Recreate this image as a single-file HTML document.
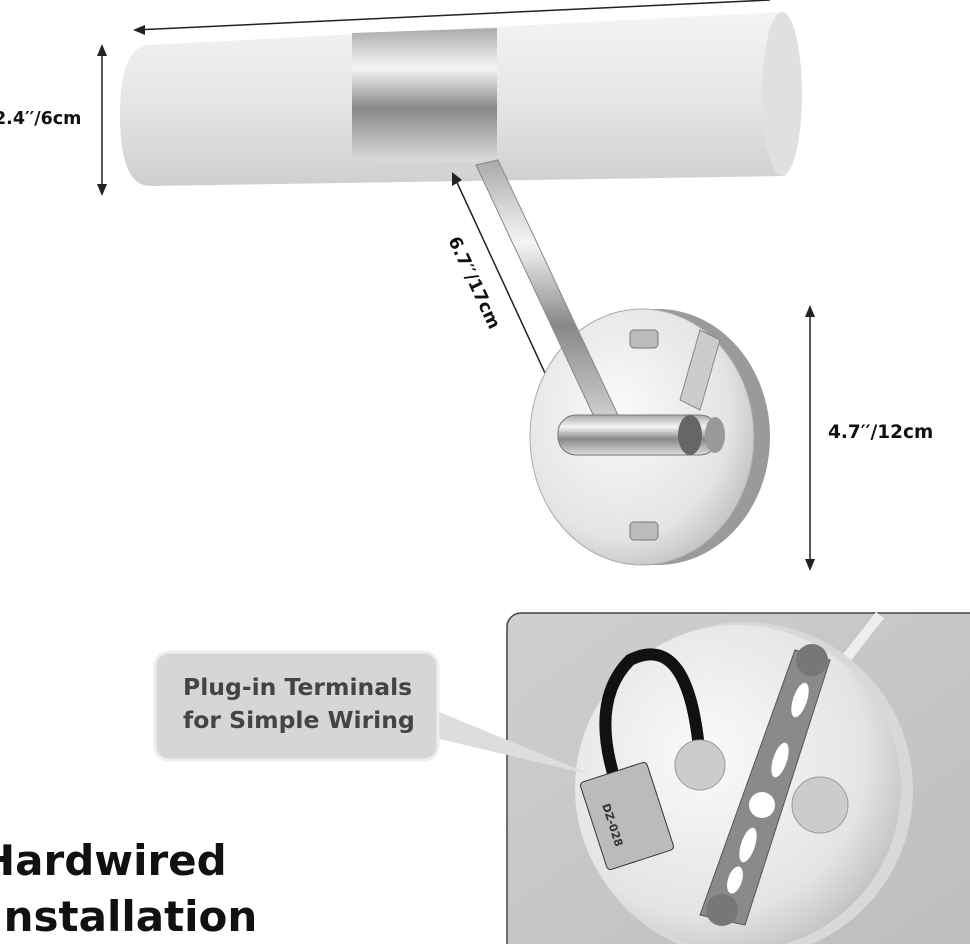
<!DOCTYPE html>
<html><head><meta charset="utf-8"><style>
html,body{margin:0;padding:0;background:#fff;width:970px;height:944px;overflow:hidden}
svg{display:block}
text{font-family:"DejaVu Sans","Liberation Sans",sans-serif;font-weight:bold}
</style></head><body>
<svg width="970" height="944" viewBox="0 0 970 944">
<defs>
<linearGradient id="tube" x1="0" y1="0" x2="0" y2="1">
<stop offset="0" stop-color="#f4f4f4"/><stop offset=".5" stop-color="#e6e6e6"/><stop offset="1" stop-color="#cfcfcf"/></linearGradient>
<linearGradient id="chrome" x1="0" y1="0" x2="0" y2="1">
<stop offset="0" stop-color="#aaa"/><stop offset=".3" stop-color="#f5f5f5"/><stop offset=".6" stop-color="#888"/><stop offset="1" stop-color="#ddd"/></linearGradient>
<radialGradient id="plate" cx=".4" cy=".4" r=".7"><stop offset="0" stop-color="#fafafa"/><stop offset=".7" stop-color="#e4e4e4"/><stop offset="1" stop-color="#b8b8b8"/></radialGradient>
<linearGradient id="bg" x1="0" y1="0" x2="1" y2="1"><stop offset="0" stop-color="#cfcfcf"/><stop offset="1" stop-color="#bdbdbd"/></linearGradient>
</defs>
<line x1="135" y1="30" x2="770" y2="0" stroke="#222" stroke-width="1.5"/>
<polygon points="133,30 145,25 145,35" fill="#222"/>
<path d="M150,45 L780,12 L785,176 L150,186 Q120,186 120,115 Q120,45 150,45Z" fill="url(#tube)"/>
<ellipse cx="782" cy="94" rx="20" ry="82" fill="#e0e0e0"/>
<path d="M352,33 L497,28 L497,158 L470,162 L352,160Z" fill="url(#chrome)"/>
<line x1="102" y1="48" x2="102" y2="192" stroke="#222" stroke-width="1.5"/>
<polygon points="102,44 97,56 107,56" fill="#222"/><polygon points="102,196 97,184 107,184" fill="#222"/>
<text x="-6" y="124" font-size="17.5" fill="#111">2.4′′/6cm</text>
<line x1="454" y1="176" x2="575" y2="438" stroke="#222" stroke-width="1.5"/>
<polygon points="452,172 452,186 462,180" fill="#222"/>
<text transform="translate(448,240) rotate(65)" font-size="17.5" fill="#111">6.7′′/17cm</text>
<ellipse cx="658" cy="437" rx="112" ry="128" fill="#9a9a9a"/>
<ellipse cx="642" cy="437" rx="112" ry="128" fill="url(#plate)" stroke="#aaa"/>
<polygon points="476,165 498,160 625,430 603,436" fill="url(#chrome)" stroke="#888"/>
<polygon points="680,400 700,330 720,340 700,410" fill="#ccc" stroke="#888"/>
<rect x="558" y="415" width="160" height="40" rx="18" fill="url(#chrome)" stroke="#777"/>
<ellipse cx="690" cy="435" rx="12" ry="20" fill="#666"/><ellipse cx="715" cy="435" rx="10" ry="18" fill="#999"/>
<rect x="630" y="330" width="28" height="18" rx="4" fill="#bbb" stroke="#777"/>
<rect x="630" y="522" width="28" height="18" rx="4" fill="#bbb" stroke="#777"/>
<line x1="810" y1="310" x2="810" y2="566" stroke="#222" stroke-width="1.5"/>
<polygon points="810,305 805,317 815,317" fill="#222"/><polygon points="810,571 805,559 815,559" fill="#222"/>
<text x="828" y="438" font-size="18.5" fill="#111">4.7′′/12cm</text>
<rect x="507" y="613" width="480" height="345" rx="14" fill="url(#bg)" stroke="#444" stroke-width="1.5"/>
<line x1="845" y1="660" x2="880" y2="615" stroke="#eee" stroke-width="10"/>
<circle cx="745" cy="790" r="168" fill="#d8d8d8"/>
<circle cx="738" cy="788" r="163" fill="url(#plate)"/>
<path d="M615,780 Q590,700 630,660 Q690,630 700,760" fill="none" stroke="#111" stroke-width="12"/>
<circle cx="700" cy="765" r="25" fill="#ccc" stroke="#999"/>
<circle cx="820" cy="805" r="28" fill="#ccc" stroke="#999"/>
<polygon points="795,650 830,660 745,925 700,915" fill="#8a8a8a" stroke="#555"/>
<circle cx="812" cy="660" r="16" fill="#777"/><circle cx="722" cy="910" r="16" fill="#777"/>
<g fill="#fff"><ellipse cx="800" cy="700" rx="7" ry="18" transform="rotate(18 800 700)"/><ellipse cx="780" cy="760" rx="7" ry="18" transform="rotate(18 780 760)"/><circle cx="762" cy="805" r="13"/><ellipse cx="748" cy="845" rx="7" ry="18" transform="rotate(18 748 845)"/><ellipse cx="735" cy="880" rx="7" ry="14" transform="rotate(18 735 880)"/></g>
<rect x="592" y="770" width="70" height="92" rx="4" fill="#bbb" stroke="#333" transform="rotate(-18 627 816)"/>
<text transform="translate(602,805) rotate(72)" font-size="11" fill="#333" font-family="Liberation Serif">DZ-028</text>
<polygon points="380,725 410,700 592,775" fill="#ddd"/>
<rect x="155" y="652" width="283" height="108" rx="14" fill="#d6d6d6" stroke="#eee" stroke-width="3"/>
<text x="183" y="695" font-size="23.5" fill="#444">Plug-in Terminals</text>
<text x="183" y="728" font-size="23.5" fill="#444">for Simple Wiring</text>
<text x="-20" y="875" font-size="42" fill="#111">Hardwired</text>
<text x="-12" y="931" font-size="42" fill="#111">Installation</text>
</svg>
</body></html>
